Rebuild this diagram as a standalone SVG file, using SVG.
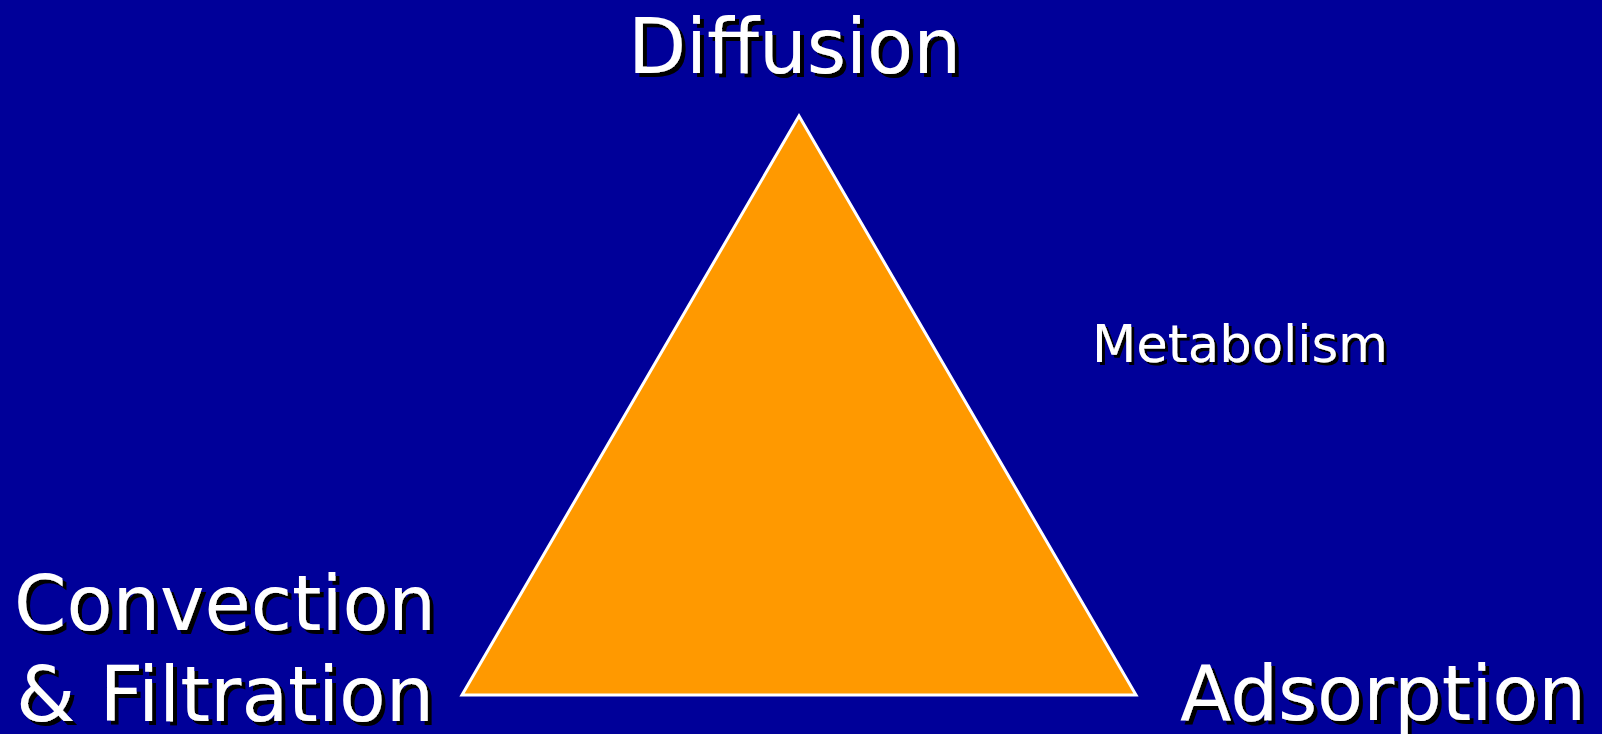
<svg xmlns="http://www.w3.org/2000/svg" width="1602" height="734" viewBox="0 0 1602 734">
<defs>
<filter id="shadowBig" x="-5%" y="-20%" width="110%" height="140%">
<feOffset in="SourceAlpha" dx="4" dy="4" result="off"/>
<feFlood flood-color="#000000"/>
<feComposite in2="off" operator="in" result="sh"/>
<feMerge><feMergeNode in="sh"/><feMergeNode in="SourceGraphic"/></feMerge>
</filter>
<filter id="shadowSmall" x="-5%" y="-20%" width="110%" height="140%">
<feOffset in="SourceAlpha" dx="3" dy="3" result="off"/>
<feFlood flood-color="#000000"/>
<feComposite in2="off" operator="in" result="sh"/>
<feMerge><feMergeNode in="sh"/><feMergeNode in="SourceGraphic"/></feMerge>
</filter>
</defs>
<style>
.t{font-family:"DejaVu Sans","Verdana",sans-serif;fill:#ffffff;}
.big{font-size:77px;filter:url(#shadowBig);}
.small{font-size:52px;filter:url(#shadowSmall);}
</style>
<rect x="0" y="0" width="1602" height="734" fill="#000099"/>
<g id="triangle">
<polygon points="799,116 462,695 1136,695" fill="#ff9900" stroke="#ffffff" stroke-width="3" stroke-linejoin="miter"/>
</g>
<g id="connectors"/>
<g id="diffusion" class="t big">
<text x="628" y="73" textLength="333" lengthAdjust="spacingAndGlyphs">Diffusion</text>
</g>
<g id="convection" class="t big">
<text x="14" y="630" textLength="422" lengthAdjust="spacingAndGlyphs">Convection</text>
<text x="16" y="721" textLength="418" lengthAdjust="spacingAndGlyphs">&amp; Filtration</text>
</g>
<g id="adsorption" class="t big">
<text x="1180" y="720" textLength="406" lengthAdjust="spacingAndGlyphs">Adsorption</text>
</g>
<g id="metabolism" class="t small">
<text x="1092" y="362" textLength="296" lengthAdjust="spacingAndGlyphs">Metabolism</text>
</g>
</svg>
